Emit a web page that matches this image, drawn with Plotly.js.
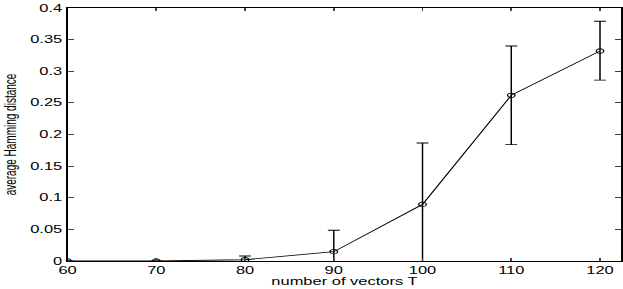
<!DOCTYPE html>
<html><head><meta charset="utf-8">
<script src="https://cdn.plot.ly/plotly-3.0.1.min.js"></script>
<style>
html,body{margin:0;padding:0;background:#fff;overflow:hidden;width:623px;height:289px}
#c{width:378px;height:289px;transform:scaleX(1.648);transform-origin:0 0}
</style>
</head><body><div id="c"></div>
<script>
const vectorsT = [60, 70, 80, 90, 100, 110, 120];
const avgHamming = [0, 0, 0.002, 0.0147, 0.0895, 0.262, 0.332];
const errPlus = [0, 0, 0.006, 0.034, 0.097, 0.078, 0.047];
const errMinus = [0, 0, 0.006, 0.034, 0.097, 0.078, 0.046];
const yTicks = [0, 0.05, 0.1, 0.15, 0.2, 0.25, 0.3, 0.35, 0.4];
const yTickText = ['0', '0.05', '0.1', '0.15', '0.2', '0.25', '0.3', '0.35', '0.4'];
const xTicks = [60, 70, 80, 90, 100, 110, 120];

Plotly.newPlot('c', [{
  x: vectorsT, y: avgHamming, type: 'scatter', mode: 'lines+markers',
  line: {color: '#000', width: 0.8},
  marker: {symbol: 'circle-open', size: 4.5, color: '#000', line: {width: 0.8}},
  error_y: {type: 'data', symmetric: false, array: errPlus, arrayminus: errMinus,
            color: '#000', thickness: 0.9, width: 3.6},
  cliponaxis: true
}], {
  width: 378, height: 289,
  margin: {l: 40.6, r: 0.6, t: 8, b: 28},
  paper_bgcolor: '#fff', plot_bgcolor: '#fff',
  showlegend: false,
  font: {family: 'Liberation Sans, Arial, sans-serif', color: '#000', size: 10},
  xaxis: {range: [60, 122.4], tickvals: xTicks, ticks: 'inside', ticklen: 3,
          showline: true, linecolor: '#000', linewidth: 1.2, mirror: 'ticks',
          showgrid: false, zeroline: false, tickfont: {size: 10},
          title: {text: 'number of vectors T', font: {size: 10}, standoff: 1}},
  yaxis: {range: [0, 0.4], tickvals: yTicks, ticktext: yTickText, ticks: 'inside', ticklen: 4,
          showline: true, linecolor: '#000', linewidth: 1.2, mirror: 'ticks',
          showgrid: false, zeroline: false, tickfont: {size: 10},
          title: {text: 'average Hamming distance', font: {size: 10}, standoff: 6}}
}, {staticPlot: true});
</script></body></html>
